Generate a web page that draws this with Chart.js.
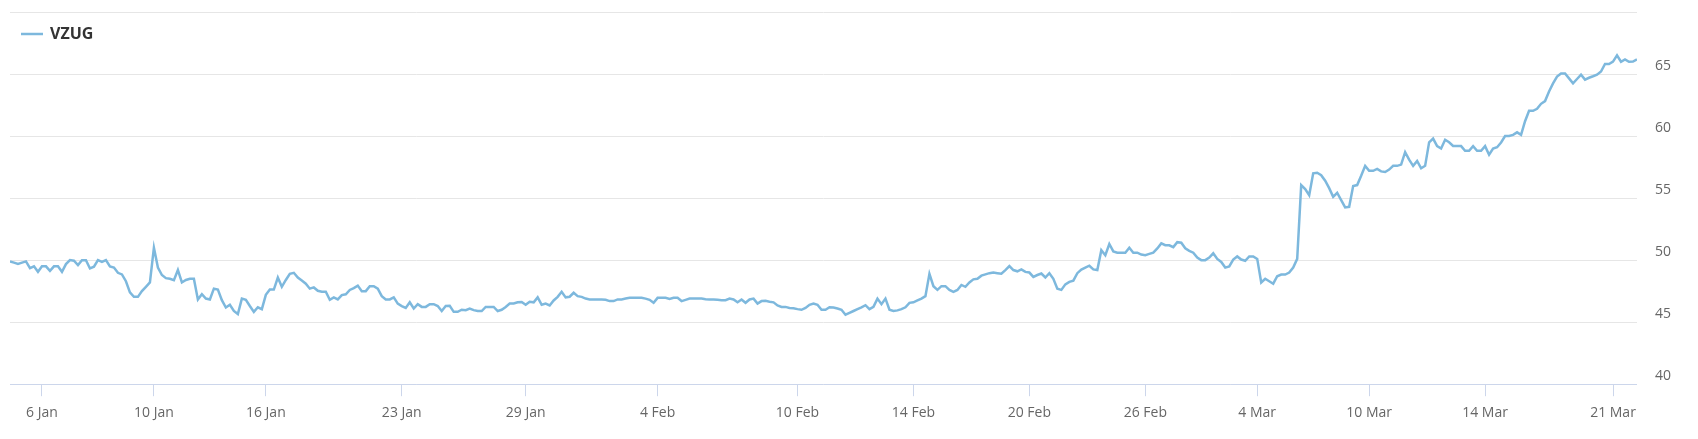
<!DOCTYPE html>
<html><head><meta charset="utf-8">
<script src="https://cdn.jsdelivr.net/npm/chart.js@4/dist/chart.umd.min.js"></script>
<style>html,body{margin:0;padding:0;background:#fff;overflow:hidden}canvas{display:block}</style>
</head><body>
<canvas id="c" width="1698" height="439"></canvas>
<script>
const seriesName = 'VZUG';
const vzug = [
49.9,49.8,49.7,49.8,49.9,49.35,49.5,49.06,49.5,49.5,
49.14,49.5,49.5,49.06,49.68,50.0,49.95,49.6,50.0,50.0,
49.33,49.47,50.0,49.85,50.0,49.5,49.4,48.98,48.85,48.3,
47.4,47.04,47.04,47.5,47.85,48.2,51.0,49.4,48.8,48.55,
48.5,48.39,49.2,48.2,48.4,48.5,48.5,46.83,47.26,46.9,
46.83,47.7,47.63,46.77,46.18,46.4,45.9,45.65,46.9,46.8,
46.3,45.83,46.2,46.05,47.2,47.63,47.63,48.6,47.85,48.4,
48.9,48.98,48.6,48.35,48.1,47.7,47.8,47.53,47.45,47.45,
46.8,47.0,46.83,47.18,47.25,47.6,47.75,47.95,47.5,47.5,
47.9,47.9,47.7,47.1,46.83,46.83,47.0,46.5,46.3,46.15,
46.6,46.1,46.45,46.23,46.23,46.45,46.45,46.3,45.9,46.3,
46.32,45.83,45.83,46.0,45.97,46.1,45.97,45.9,45.9,46.23,
46.23,46.23,45.9,46.0,46.23,46.5,46.5,46.6,46.63,46.4,
46.65,46.6,47.0,46.4,46.5,46.35,46.75,47.04,47.45,47.0,
47.05,47.37,47.1,47.04,46.9,46.83,46.83,46.83,46.83,46.8,
46.7,46.7,46.83,46.83,46.9,46.96,46.96,46.96,46.96,46.9,
46.8,46.56,46.96,46.96,46.96,46.88,46.96,46.96,46.7,46.8,
46.9,46.9,46.9,46.9,46.85,46.83,46.83,46.8,46.77,46.77,
46.9,46.83,46.6,46.83,46.56,46.83,46.9,46.5,46.7,46.72,
46.65,46.6,46.35,46.23,46.23,46.15,46.12,46.05,46.0,46.15,
46.4,46.5,46.4,46.0,46.0,46.2,46.18,46.1,46.0,45.6,
45.75,45.9,46.05,46.2,46.37,46.05,46.23,46.9,46.45,46.9,
46.0,45.9,45.95,46.05,46.2,46.56,46.6,46.75,46.9,47.1,
48.9,47.9,47.6,47.9,47.9,47.6,47.45,47.6,48.0,47.85,
48.2,48.45,48.5,48.75,48.85,48.95,49.0,48.95,48.9,49.2,
49.52,49.2,49.1,49.25,49.05,49.0,48.65,48.8,48.92,48.6,
48.95,48.5,47.7,47.6,48.05,48.25,48.35,48.95,49.24,49.4,
49.55,49.25,49.2,50.8,50.4,51.3,50.7,50.6,50.6,50.6,
51.0,50.6,50.6,50.45,50.4,50.5,50.6,50.94,51.35,51.2,
51.2,51.05,51.45,51.4,50.95,50.75,50.6,50.2,50.0,50.0,
50.2,50.55,50.1,49.85,49.4,49.5,50.05,50.3,50.05,49.95,
50.3,50.3,50.1,48.2,48.5,48.3,48.1,48.7,48.84,48.84,
49.0,49.4,50.1,56.05,55.73,55.24,57.0,57.04,56.85,56.4,
55.8,55.1,55.43,54.84,54.25,54.3,55.97,56.05,56.8,57.6,
57.2,57.2,57.35,57.15,57.1,57.3,57.6,57.6,57.7,58.7,
58.1,57.6,58.0,57.4,57.6,59.5,59.8,59.2,59.0,59.7,
59.5,59.2,59.19,59.19,58.82,58.82,59.19,58.82,58.82,59.19,
58.5,59.0,59.1,59.48,60.0,60.0,60.1,60.3,60.1,61.2,
62.04,62.04,62.2,62.6,62.82,63.6,64.25,64.8,65.05,65.05,
64.65,64.25,64.6,64.95,64.55,64.7,64.82,64.95,65.2,65.81,
65.81,66.0,66.5,65.99,66.18,65.99,66.0,66.18
];
const tickIdx = [8, 36, 64, 98, 129, 162, 197, 226, 255, 284, 312, 340, 369, 401];
const tickLabels = ['6 Jan','10 Jan','16 Jan','23 Jan','29 Jan','4 Feb','10 Feb','14 Feb','20 Feb','26 Feb','4 Mar','10 Mar','14 Mar','21 Mar'];
const yMin = 40, yMax = 70, yStep = 5;

const lineColor = '#7db8dd';
const labelFont = {family: "'Open Sans', sans-serif", size: 14};

// legend drawn inside the plot area (top-left), like the reference
const insideLegend = {
  id: 'insideLegend',
  afterDraw(chart) {
    const {ctx, chartArea} = chart;
    const ds = chart.data.datasets[0];
    const y = chartArea.top + 22;
    const x0 = chartArea.left + 11;
    ctx.save();
    ctx.strokeStyle = ds.borderColor;
    ctx.lineWidth = 2.5;
    ctx.beginPath();
    ctx.moveTo(x0, y);
    ctx.lineTo(x0 + 22, y);
    ctx.stroke();
    ctx.fillStyle = '#333333';
    ctx.font = "bold 16px 'Open Sans', sans-serif";
    ctx.textBaseline = 'middle';
    ctx.textAlign = 'left';
    ctx.fillText(ds.label, x0 + 29, y);
    ctx.restore();
  }
};

new Chart(document.getElementById('c'), {
  type: 'line',
  data: {
    datasets: [{
      label: seriesName,
      data: vzug.map((v, i) => ({x: i, y: v})),
      borderColor: lineColor,
      backgroundColor: lineColor,
      borderWidth: 2.5,
      pointRadius: 0,
      pointHoverRadius: 0,
      tension: 0,
      fill: false
    }]
  },
  plugins: [insideLegend],
  options: {
    responsive: false,
    animation: false,
    devicePixelRatio: 1,
    layout: {padding: {left: 10, top: 12, right: 27, bottom: 10}},
    plugins: {
      tooltip: {enabled: false},
      legend: {display: false}
    },
    scales: {
      x: {
        type: 'linear',
        min: 0,
        max: vzug.length - 1,
        afterBuildTicks: (axis) => { axis.ticks = tickIdx.map(v => ({value: v})); },
        ticks: {
          autoSkip: false,
          maxRotation: 0,
          padding: 8,
          color: '#666666',
          font: labelFont,
          callback: (value) => { const j = tickIdx.indexOf(value); return j >= 0 ? tickLabels[j] : null; }
        },
        grid: {drawOnChartArea: false, drawTicks: true, tickLength: 12, tickColor: '#ccd6eb', color: '#ccd6eb'},
        border: {display: true, color: '#ccd6eb', width: 1}
      },
      y: {
        position: 'right',
        min: yMin,
        max: yMax,
        ticks: {
          stepSize: yStep,
          padding: 0,
          labelOffset: -8,
          color: '#666666',
          font: labelFont,
          callback: (v) => (v === yMax ? '' : String(v))
        },
        grid: {color: '#e6e6e6', drawTicks: true, tickLength: 18, tickColor: 'rgba(0,0,0,0)'},
        border: {display: false}
      }
    }
  }
});
</script>
</body></html>
